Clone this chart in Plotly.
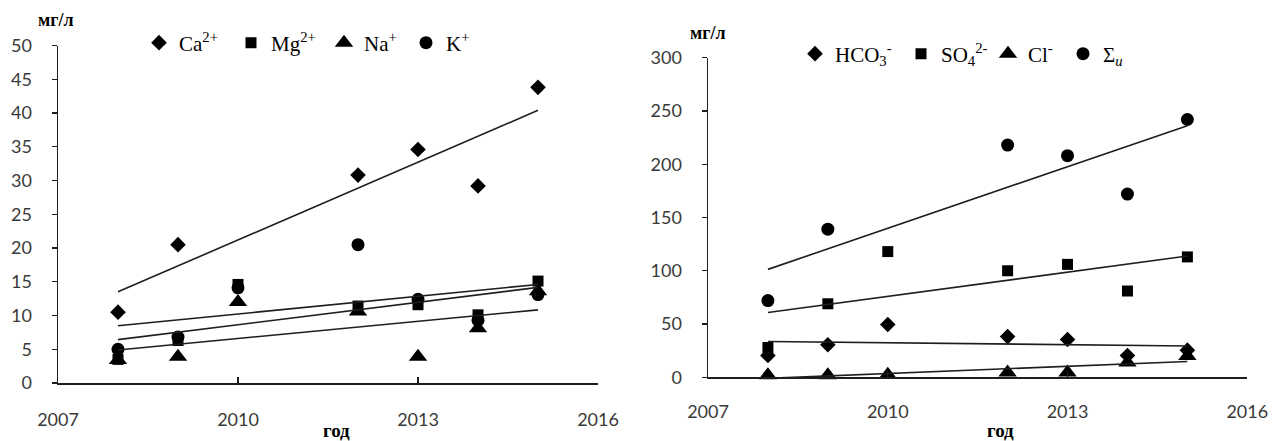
import numpy as np
import plotly.graph_objects as go

# ---------------- data ----------------
years = [2008, 2009, 2010, 2012, 2013, 2014, 2015]
years_no2010 = [2008, 2009, 2012, 2013, 2014, 2015]

# cations, mg/l
ca = [10.5, 20.5, 30.8, 34.6, 29.2, 43.8]      # years_no2010
mg = [3.5, 6.3, 14.6, 11.4, 11.6, 10.1, 15.1]  # years
na = [3.4, 3.9, 12.0, 10.6, 3.9, 8.1, 13.6]    # years
k = [5.0, 6.8, 14.1, 20.5, 12.4, 9.3, 13.1]    # years

# anions and total mineralisation, mg/l
hco3 = [20.4, 30.5, 49.6, 38.2, 35.5, 20.5, 25.5]  # years
so4 = [28, 69, 118, 100, 106, 81, 113]             # years
cl = [2, 2, 2.5, 4.5, 4.5, 14, 20]                 # years
sigma = [72, 139, 218, 208, 172, 242]              # years_no2010

left_series = [
    ("Ca<sup>2+</sup>", years_no2010, ca, "diamond", 47),
    ("Mg<sup>2+</sup>", years, mg, "square", 48),
    ("Na<sup>+</sup>", years, na, "triangle-up", 37),
    ("K<sup>+</sup>", years, k, "circle", 30),
]
right_series = [
    ("HCO<sub>3</sub><sup>-</sup>", years, hco3, "diamond", 61),
    ("SO<sub>4</sub><sup>2-</sup>", years, so4, "square", 42),
    ("Cl<sup>-</sup>", years, cl, "triangle-up", 30),
    ("Σ<sub><i>и</i></sub>", years_no2010, sigma, "circle", 30),
]

# ---------------- layout constants ----------------
W, H = 1279, 441


def fx(px):
    return px / W


def fy(py):
    return (H - py) / H


msize = {"diamond": 12, "square": 11, "triangle-up": 16, "circle": 13}
TICKFONT = dict(family="Lato", size=18, color="#3a3a3a")
LINE = "#1e1e1e"

fig = go.Figure()


def add_panel(series, xa, ya, legend):
    for name, xs, ys, sym, lw in series:
        fig.add_trace(go.Scatter(
            x=xs, y=ys, mode="markers", name=name,
            marker=dict(symbol=sym, size=msize[sym], color="black"),
            xaxis=xa, yaxis=ya, legend=legend, legendwidth=lw,
            cliponaxis=False,
        ))
    for name, xs, ys, sym, lw in series:
        b, a = np.polyfit(xs, ys, 1)
        tx = np.array([min(xs), max(xs)])
        fig.add_trace(go.Scatter(
            x=tx, y=a + b * tx, mode="lines", showlegend=False,
            line=dict(color=LINE, width=1.6),
            xaxis=xa, yaxis=ya, hoverinfo="skip",
        ))


add_panel(left_series, "x", "y", "legend")
add_panel(right_series, "x2", "y2", "legend2")


def xax(x0, x1, anchor, standoff):
    return dict(domain=[fx(x0), fx(x1)], range=[2007, 2016], tick0=2007, dtick=3,
                ticks="inside", ticklen=6, tickcolor=LINE, tickwidth=1.3,
                showline=True, linecolor=LINE, linewidth=1.5,
                showgrid=False, zeroline=False, anchor=anchor,
                tickfont=TICKFONT, ticklabelstandoff=standoff, fixedrange=True)


def yax(y0, y1, rmax, dt, anchor, standoff):
    return dict(domain=[fy(y0), fy(y1)], range=[0, rmax], tick0=0, dtick=dt,
                ticks="outside", ticklen=5, tickcolor=LINE, tickwidth=1.3,
                showline=True, linecolor=LINE, linewidth=1.5,
                showgrid=False, zeroline=False, anchor=anchor,
                tickfont=TICKFONT, ticklabelstandoff=standoff, fixedrange=True)


def yax_inner(over, rmax, dt, anchor):
    return dict(overlaying=over, range=[0, rmax], tick0=0, dtick=dt,
                ticks="inside", ticklen=5, tickcolor=LINE, tickwidth=1.3,
                showline=False, showgrid=False, zeroline=False,
                showticklabels=False, anchor=anchor, fixedrange=True)


legend_common = dict(orientation="h", xanchor="left", yanchor="middle",
                     font=dict(family="Liberation Serif", size=21, color="black"),
                     bgcolor="rgba(0,0,0,0)", itemclick=False, itemdoubleclick=False)

fig.update_layout(
    width=W, height=H,
    margin=dict(l=0, r=0, t=0, b=0, autoexpand=False),
    paper_bgcolor="white", plot_bgcolor="white",
    xaxis=xax(58, 598, "y", 20),
    yaxis=yax(383, 45.5, 50, 5, "x", 16),
    xaxis2=xax(708, 1247.3, "y2", 18),
    yaxis2=yax(377.3, 57.7, 300, 50, "x2", 16),
    yaxis3=yax_inner("y", 50, 5, "x"),
    yaxis4=yax_inner("y2", 300, 50, "x2"),
    legend=dict(legend_common, x=fx(139), y=fy(43)),
    legend2=dict(legend_common, x=fx(795), y=fy(54)),
    hovermode=False,
)

title_font = dict(family="Liberation Serif", size=17, color="black")
for txt, px, py, size in [("мг/л", 56, 20, 18), ("мг/л", 708, 33, 18),
                          ("год", 336, 430, 19), ("год", 1000, 430, 19)]:
    fig.add_annotation(text="<b>%s</b>" % txt, x=fx(px), y=fy(py), xref="paper", yref="paper",
                       xanchor="center", yanchor="middle", showarrow=False,
                       font=dict(title_font, size=size))

fig.write_html("out.html",
               config={"displayModeBar": False, "staticPlot": True},
               post_script="document.body.style.margin='0';document.body.style.overflow='hidden';")
